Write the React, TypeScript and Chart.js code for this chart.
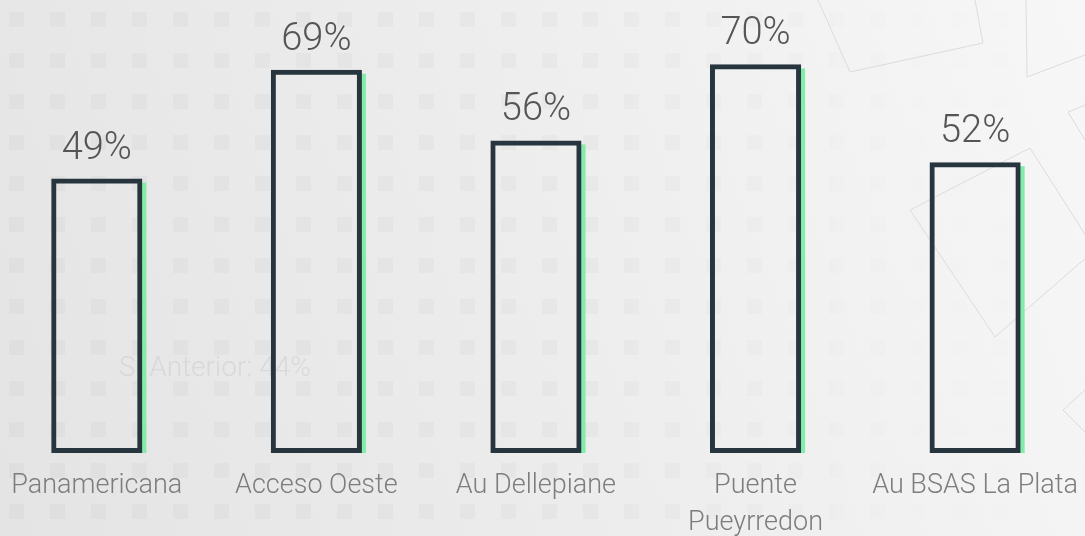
import React, { useEffect, useRef } from 'react';
import { Chart, registerables } from 'chart.js';

Chart.register(...registerables);

const categories: string[][] = [
  ['Panamericana'],
  ['Acceso Oeste'],
  ['Au Dellepiane'],
  ['Puente', 'Pueyrredon'],
  ['Au BSAS La Plata'],
];
const values: number[] = [49, 69, 56, 70, 52];
const valueSuffix = '%';
const ghostText = 'S. Anterior: 44%';

const BORDER = '#27353e';
const GREEN = '#84ecaa';
const FONT = 'Roboto, "Open Sans", sans-serif';

const shadowPlugin = {
  id: 'greenEdge',
  beforeDatasetsDraw(chart: any) {
    const { ctx } = chart;
    const meta = chart.getDatasetMeta(0);
    ctx.save();
    ctx.fillStyle = GREEN;
    meta.data.forEach((el: any) => {
      const { x, y, base, width } = el.getProps(['x', 'y', 'base', 'width'], true);
      ctx.fillRect(x + width / 2 - 1, y + 4, 5, base - y - 4);
    });
    ctx.restore();
  },
};

const ghostPlugin = {
  id: 'ghostText',
  beforeDatasetsDraw(chart: any) {
    const { ctx } = chart;
    ctx.save();
    ctx.font = `300 28px ${FONT}`;
    ctx.fillStyle = 'rgba(190,190,190,0.35)';
    ctx.textAlign = 'center';
    ctx.textBaseline = 'middle';
    ctx.fillText(ghostText, 228, 369);
    ctx.restore();
  },
};

const valueLabelPlugin = {
  id: 'valueLabels',
  afterDatasetsDraw(chart: any) {
    const { ctx } = chart;
    const meta = chart.getDatasetMeta(0);
    ctx.save();
    ctx.font = `300 38px ${FONT}`;
    ctx.fillStyle = '#555555';
    ctx.textAlign = 'center';
    ctx.textBaseline = 'alphabetic';
    meta.data.forEach((el: any, i: number) => {
      const { x, y } = el.getProps(['x', 'y'], true);
      ctx.fillText(`${values[i]}${valueSuffix}`, x, y - 20);
    });
    ctx.restore();
  },
};

const squarePattern =
  "url(\"data:image/svg+xml;utf8,<svg xmlns='http://www.w3.org/2000/svg' width='41' height='41'><rect x='9' y='12' width='15' height='15' fill='rgba(0,0,0,0.022)'/></svg>\")";

export default function App() {
  const canvasRef = useRef<HTMLCanvasElement | null>(null);

  useEffect(() => {
    document.body.style.margin = '0';
    document.body.style.overflow = 'hidden';
    document.documentElement.style.overflow = 'hidden';
    const canvas = canvasRef.current;
    if (!canvas) return;
    const chart = new Chart(canvas, {
      type: 'bar',
      data: {
        labels: categories,
        datasets: [
          {
            data: values,
            base: -1.5,
            backgroundColor: 'rgba(255,255,255,0)',
            borderColor: BORDER,
            borderWidth: 5,
            borderSkipped: false,
            categoryPercentage: 1,
            barPercentage: 0.415,
          } as any,
        ],
      },
      options: {
        animation: false,
        responsive: true,
        maintainAspectRatio: false,
        layout: { padding: { top: 10, left: 0, right: 0, bottom: 0 } },
        plugins: {
          legend: { display: false },
          tooltip: { enabled: false },
        },
        scales: {
          x: {
            grid: { display: false, drawTicks: true, tickLength: 8 },
            border: { display: false },
            ticks: {
              color: '#7d7d7d',
              font: { family: FONT, size: 27, weight: 300 as any, lineHeight: 37 / 27 },
              padding: 7,
              maxRotation: 0,
              autoSkip: false,
            },
            afterFit: (scale: any) => {
              scale.height = 83;
            },
          },
          y: {
            display: false,
            min: -1.5,
            max: 80,
          },
        },
      },
      plugins: [shadowPlugin, ghostPlugin, valueLabelPlugin],
    });
    return () => chart.destroy();
  }, []);

  return (
    <div
      style={{
        position: 'fixed',
        left: 0,
        top: 0,
        width: 1085,
        height: 536,
        overflow: 'hidden',
        background: 'linear-gradient(70deg, #e4e4e4 0%, #ececec 45%, #f7f7f7 100%)',
      }}
    >
      <div
        style={{
          position: 'absolute',
          left: 0,
          top: 0,
          width: 1085,
          height: 536,
          backgroundImage: squarePattern,
          backgroundPosition: '0px 0px',
          WebkitMaskImage: 'linear-gradient(90deg, #000 0%, #000 55%, rgba(0,0,0,0.2) 85%, transparent 100%)',
          maskImage: 'linear-gradient(90deg, #000 0%, #000 55%, rgba(0,0,0,0.2) 85%, transparent 100%)',
        }}
      />
      <svg
        width={1085}
        height={536}
        style={{ position: 'absolute', left: 0, top: 0 }}
        fill="none"
        stroke="#dcdcdc"
        strokeWidth={1}
      >
        <polyline points="818,0 850,72 983,43 975,0" />
        <polyline points="1026,0 1027,77 1085,55" />
        <polygon points="910,210 1030,148 1095,250 995,337" />
        <polyline points="1085,105 1068,112 1085,140" />
        <polyline points="1085,390 1063,410 1085,432" />
      </svg>
      <div style={{ position: 'absolute', left: -13, top: 0, width: 1098, height: 536 }}>
        <canvas ref={canvasRef} />
      </div>
    </div>
  );
}
